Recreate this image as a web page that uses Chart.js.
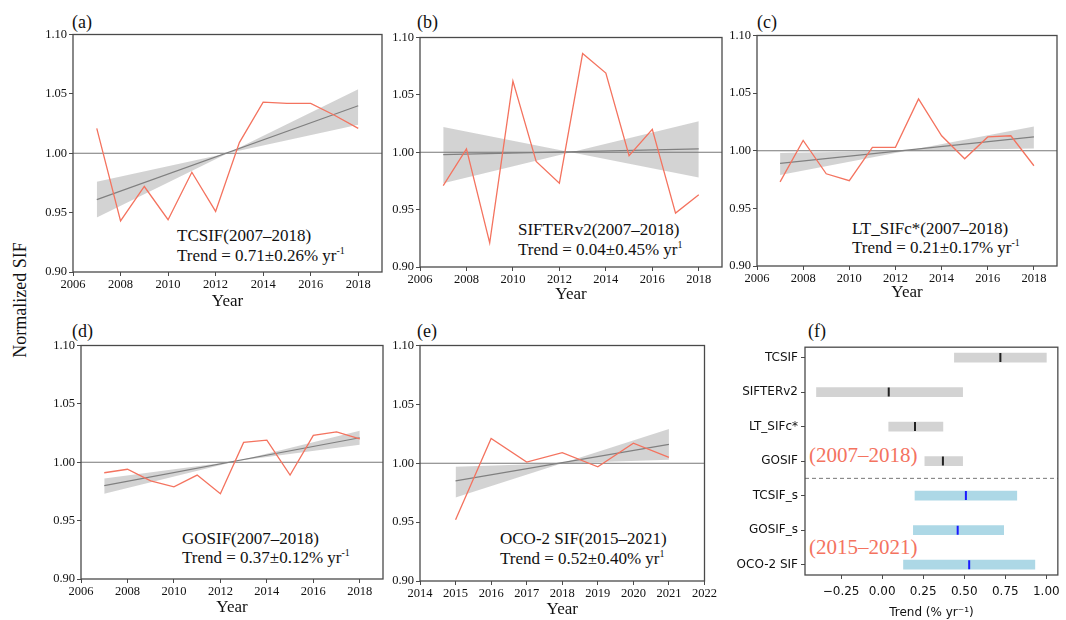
<!DOCTYPE html>
<html>
<head>
<meta charset="utf-8">
<script src="https://cdn.jsdelivr.net/npm/chart.js@4.4.1/dist/chart.umd.min.js"></script>
<style>
  body { margin: 0; background: #fff; }
  #fig { position: relative; width: 1066px; height: 620px; overflow: hidden;
         font-family: "Liberation Serif", "Times New Roman", serif; color: #111; }
  #fig canvas { position: absolute; }
  .lbl { position: absolute; white-space: nowrap; line-height: 1; }
  .panel { font-size: 18px; }
  .note { font-size: 17px; }
  .note sup { font-size: 10px; vertical-align: 0; position: relative; top: -7px; }
  .period { font-size: 21px; color: #f4735f; }
  #ylab { font-size: 18px; left: 20px; top: 300px; transform: translate(-50%, -50%) rotate(-90deg); }
</style>
</head>
<body>
<div id="fig">
  <div class="lbl panel" style="left:72px;top:13px">(a)</div>
  <div class="lbl panel" style="left:417px;top:13px">(b)</div>
  <div class="lbl panel" style="left:757px;top:13px">(c)</div>
  <div class="lbl panel" style="left:72px;top:322px">(d)</div>
  <div class="lbl panel" style="left:417px;top:322px">(e)</div>
  <div class="lbl panel" style="left:808px;top:322px">(f)</div>
  <div class="lbl" id="ylab">Normalized SIF</div>

  <div class="lbl note" style="left:177px;top:227px">TCSIF(2007–2018)</div>
  <div class="lbl note" style="left:177px;top:247px">Trend = 0.71±0.26% yr<sup>-1</sup></div>
  <div class="lbl note" style="left:518px;top:221px">SIFTERv2(2007–2018)</div>
  <div class="lbl note" style="left:518px;top:241px">Trend = 0.04±0.45% yr<sup>1</sup></div>
  <div class="lbl note" style="left:852px;top:220px">LT_SIFc*(2007–2018)</div>
  <div class="lbl note" style="left:852px;top:239px">Trend = 0.21±0.17% yr<sup>-1</sup></div>
  <div class="lbl note" style="left:182px;top:530px">GOSIF(2007–2018)</div>
  <div class="lbl note" style="left:182px;top:549px">Trend = 0.37±0.12% yr<sup>-1</sup></div>
  <div class="lbl note" style="left:500px;top:530px">OCO-2 SIF(2015–2021)</div>
  <div class="lbl note" style="left:500px;top:550px">Trend = 0.52±0.40% yr<sup>1</sup></div>

  <div class="lbl period" style="left:809px;top:445px">(2007–2018)</div>
  <div class="lbl period" style="left:809px;top:537px">(2015–2021)</div>
</div>

<script>
// years and normalized SIF
const years0718 = [2007, 2008, 2009, 2010, 2011, 2012, 2013, 2014, 2015, 2016, 2017, 2018];
const years1521 = [2015, 2016, 2017, 2018, 2019, 2020, 2021];

const tcsif  = [1.021, 0.943, 0.972, 0.944, 0.984, 0.951, 1.009, 1.043, 1.042, 1.042, 1.032, 1.021];
const sifter = [0.971, 1.003, 0.921, 1.062, 0.992, 0.973, 1.086, 1.069, 0.997, 1.020, 0.947, 0.963];
const ltsif  = [0.973, 1.009, 0.980, 0.974, 1.003, 1.003, 1.045, 1.013, 0.993, 1.012, 1.013, 0.987];
const gosif  = [0.991, 0.994, 0.984, 0.979, 0.989, 0.973, 1.017, 1.019, 0.989, 1.023, 1.026, 1.020];
const oco2   = [0.952, 1.021, 1.001, 1.009, 0.997, 1.017, 1.005];

// fitted trend [first year, last year] and the two edges of the grey band
const trendTcsif  = [0.961, 1.040];  const bandTcsif  = [[0.946, 1.054], [0.976, 1.024]];
const trendSifter = [0.998, 1.003];  const bandSifter = [[1.022, 0.978], [0.973, 1.027]];
const trendLtsif  = [0.989, 1.012];  const bandLtsif  = [[0.979, 1.021], [0.998, 1.002]];
const trendGosif  = [0.980, 1.021];  const bandGosif  = [[0.973, 1.027], [0.986, 1.015]];
const trendOco2   = [0.985, 1.016];  const bandOco2   = [[0.971, 1.029], [0.997, 1.003]];

// panel (f): trend ranges (% per year)
const products  = ['TCSIF', 'SIFTERv2', 'LT_SIFc*', 'GOSIF', 'TCSIF_s', 'GOSIF_s', 'OCO-2 SIF'];
const trendLow  = [0.44, -0.40, 0.04, 0.26, 0.20, 0.19, 0.13];
const trendHigh = [1.00, 0.49, 0.37, 0.49, 0.82, 0.74, 0.93];
const trendMean = [0.72, 0.04, 0.20, 0.37, 0.51, 0.46, 0.53];

const yTicks = [0.90, 0.95, 1.00, 1.05, 1.10];

const SERIF = '"Liberation Serif", "Times New Roman", serif';
const SANS = '"DejaVu Sans", sans-serif';
const RED = '#f4735f';
const EDGE = '#4a4a4a';

Chart.defaults.animation = false;
Chart.defaults.color = '#111';
Chart.defaults.plugins.legend.display = false;
Chart.defaults.plugins.tooltip.enabled = false;

// box round the plot area, 1.00 line and the dashed separator
const framePlugin = {
  id: 'frame',
  beforeDatasetsDraw(chart, args, opts) {
    const a = chart.chartArea, ctx = chart.ctx;
    ctx.save();
    if (opts.refY !== undefined) {
      const y = chart.scales.y.getPixelForValue(opts.refY);
      ctx.strokeStyle = '#777';
      ctx.lineWidth = 1.2;
      ctx.beginPath(); ctx.moveTo(a.left, y); ctx.lineTo(a.right, y); ctx.stroke();
    }
    if (opts.dashY !== undefined) {
      const y = chart.scales.y.getPixelForValue(opts.dashY);
      ctx.strokeStyle = '#777';
      ctx.lineWidth = 1;
      ctx.setLineDash([4, 3]);
      ctx.beginPath(); ctx.moveTo(a.left, y); ctx.lineTo(a.right, y); ctx.stroke();
    }
    ctx.restore();
  },
  afterDraw(chart) {
    const a = chart.chartArea, ctx = chart.ctx;
    ctx.save();
    ctx.strokeStyle = EDGE;
    ctx.lineWidth = 1.3;
    ctx.strokeRect(a.left, a.top, a.right - a.left, a.bottom - a.top);
    ctx.restore();
  }
};

function place(area, padL, padT, padR, bottom) {
  const c = document.createElement('canvas');
  const left = area.l - padL, top = area.t - padT;
  const w = area.r + padR - left, h = bottom - top;
  c.width = w; c.height = h;
  c.style.left = left + 'px'; c.style.top = top + 'px';
  c.style.width = w + 'px'; c.style.height = h + 'px';
  document.getElementById('fig').appendChild(c);
  return c;
}

function pts(xs, ys) {
  return xs.map((x, i) => ({ x: x, y: ys[i] }));
}

function sifPanel(area, titleY, xs, values, trend, band, xMin, xMax, xStep) {
  const padL = 45, padT = 8, padR = 4;
  const bottom = titleY + 10;
  const canvas = place(area, padL, padT, padR, bottom);
  const ends = [xs[0], xs[xs.length - 1]];
  new Chart(canvas, {
    type: 'line',
    data: {
      datasets: [
        { data: pts(xs, values), borderColor: RED, borderWidth: 1.3, pointRadius: 0, fill: false },
        { data: pts(ends, trend), borderColor: '#808080', borderWidth: 1.2, pointRadius: 0, fill: false },
        { data: pts(ends, band[0]), borderWidth: 0, pointRadius: 0, fill: false },
        { data: pts(ends, band[1]), borderWidth: 0, pointRadius: 0, fill: '-1',
          backgroundColor: 'rgba(200,200,200,0.8)' }
      ]
    },
    options: {
      responsive: false,
      layout: { padding: { left: 0, top: padT, right: padR, bottom: 0 } },
      plugins: { frame: { refY: 1.0 }, filler: { drawTime: 'beforeDatasetsDraw' } },
      scales: {
        x: {
          type: 'linear', min: xMin, max: xMax,
          afterFit: s => { s.height = bottom - area.b; },
          grid: { drawOnChartArea: false, drawTicks: true, tickLength: 4, color: EDGE },
          border: { display: false },
          ticks: { stepSize: xStep, includeBounds: false, padding: 1,
                   font: { family: SERIF, size: 12.5 }, callback: v => String(v) },
          title: { display: true, text: 'Year', padding: 0,
                   font: { family: SERIF, size: 17, lineHeight: 1.2 } }
        },
        y: {
          min: 0.9, max: 1.1,
          afterFit: s => { s.width = padL; },
          afterBuildTicks: s => { s.ticks = yTicks.map(v => ({ value: v })); },
          grid: { drawOnChartArea: false, drawTicks: true, tickLength: 4, color: EDGE },
          border: { display: false },
          ticks: { padding: 2, font: { family: SERIF, size: 12.5 }, callback: v => v.toFixed(2) }
        }
      }
    },
    plugins: [framePlugin]
  });
}

sifPanel({ l: 73, t: 33, r: 382, b: 272 }, 302, years0718, tcsif, trendTcsif, bandTcsif, 2006, 2019, 2);
sifPanel({ l: 420, t: 36, r: 722, b: 267 }, 295, years0718, sifter, trendSifter, bandSifter, 2006, 2019, 2);
sifPanel({ l: 757, t: 34, r: 1057, b: 266 }, 293, years0718, ltsif, trendLtsif, bandLtsif, 2006, 2019, 2);
sifPanel({ l: 81, t: 344, r: 383, b: 579 }, 608, years0718, gosif, trendGosif, bandGosif, 2006, 2019, 2);
sifPanel({ l: 420, t: 344, r: 714, b: 581 }, 610, years1521, oco2, trendOco2, bandOco2, 2014, 2022, 1);

// panel (f)
(function () {
  const area = { l: 805, t: 343, r: 1065, b: 575 };
  const padL = 100, padT = 6, padR = 1, bottom = 622;
  const canvas = place(area, padL, padT, padR, bottom);
  const idx = products.map((p, i) => i);
  const barColors = idx.map(i => (i < 4 ? '#d3d3d3' : '#add8e6'));
  const markColors = idx.map(i => (i < 4 ? '#222' : '#1a1aff'));
  new Chart(canvas, {
    type: 'bar',
    data: {
      datasets: [
        { type: 'scatter', indexAxis: 'x',
          data: idx.map(i => ({ x: trendMean[i], y: i })),
          pointStyle: 'line', rotation: 90, radius: 4.5, borderWidth: 2,
          borderColor: markColors, backgroundColor: markColors },
        { indexAxis: 'y',
          data: idx.map(i => ({ x: [trendLow[i], trendHigh[i]], y: i })),
          backgroundColor: barColors, barThickness: 9, borderWidth: 0 }
      ]
    },
    options: {
      responsive: false,
      indexAxis: 'y',
      layout: { padding: { left: 0, top: padT, right: padR, bottom: 0 } },
      plugins: { frame: { dashY: 3.5 } },
      scales: {
        x: {
          type: 'linear', min: -0.47, max: 1.07, offset: false,
          afterFit: s => { s.height = bottom - area.b; },
          grid: { drawOnChartArea: false, drawTicks: true, tickLength: 4, color: EDGE, offset: false },
          border: { display: false },
          ticks: { stepSize: 0.25, includeBounds: false, padding: 6,
                   font: { family: SANS, size: 12 },
                   callback: v => v.toFixed(2).replace('-', '\u2212') },
          title: { display: true, text: 'Trend (% yr\u207B\u00B9)', padding: { top: 0, bottom: 2 },
                   font: { family: SANS, size: 12, lineHeight: 1.2 } }
        },
        y: {
          type: 'linear', reverse: true, min: -0.3, max: 6.3, offset: false,
          afterFit: s => { s.width = padL; },
          afterBuildTicks: s => { s.ticks = idx.map(i => ({ value: i })); },
          grid: { drawOnChartArea: false, drawTicks: true, tickLength: 4, color: EDGE, offset: false },
          border: { display: false },
          ticks: { padding: 3, font: { family: SANS, size: 12 }, callback: v => products[v] }
        }
      }
    },
    plugins: [framePlugin]
  });
})();
</script>
</body>
</html>
